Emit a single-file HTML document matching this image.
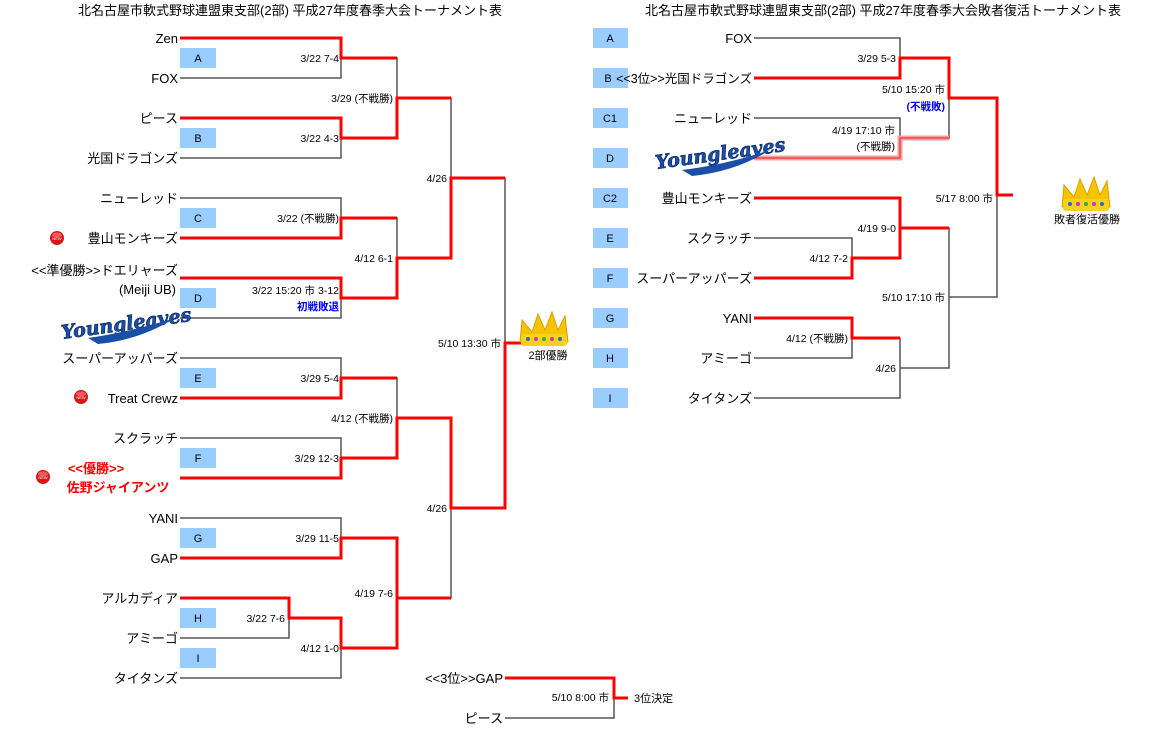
<!DOCTYPE html>
<html><head><meta charset="utf-8"><style>
body{margin:0;background:#fff;width:1171px;height:739px;overflow:hidden}
svg{display:block}
text{font-family:"Liberation Sans","Noto Sans CJK JP",sans-serif;fill:#000}
.t{font-size:13px;text-anchor:end}
.l{font-size:10.5px;text-anchor:end}
.b{font-size:11px;text-anchor:middle}
.k{fill:none;stroke:#555;stroke-width:1.5}
.r{fill:none;stroke:#f00;stroke-width:3}
.yl{font-family:'DejaVu Serif',serif;font-style:italic;font-weight:bold;font-size:19px;fill:#1a4fa8;stroke:#0a2a66;stroke-width:.7;text-anchor:middle}
</style></head><body>
<svg width="1171" height="739" viewBox="0 0 1171 739">
<defs>
<g id="crown">
<polygon points="0,30 2,8 12,20 18,2 25,18 32,0 38,18 45,4 48,30" fill="#f5c400" stroke="#d9a000"/>
<rect x="1" y="22" width="46" height="12" rx="3" fill="#f8d21a"/>
<circle cx="8" cy="27" r="2" fill="#36c"/><circle cx="16" cy="27" r="2" fill="#c3c"/><circle cx="24" cy="27" r="2" fill="#3a3"/><circle cx="32" cy="27" r="2" fill="#c3c"/><circle cx="40" cy="27" r="2" fill="#36c"/>
</g>
<g id="nw"><circle r="7" fill="#d81818"/><ellipse cy="-3" rx="5" ry="2.5" fill="#f88" opacity=".6"/><text y="2" style="font-size:4px;fill:#fff;text-anchor:middle">NEW</text></g>
</defs>
<text x="290" y="15" style="font-size:13px;text-anchor:middle">北名古屋市軟式野球連盟東支部(2部) 平成27年度春季大会トーナメント表</text>
<text x="883" y="15" style="font-size:13px;text-anchor:middle">北名古屋市軟式野球連盟東支部(2部) 平成27年度春季大会敗者復活トーナメント表</text>

<g fill="#99ccff">
<rect x="180" y="48" width="36" height="20"/><rect x="180" y="128" width="36" height="20"/><rect x="180" y="208" width="36" height="20"/><rect x="180" y="288" width="36" height="20"/><rect x="180" y="368" width="36" height="20"/><rect x="180" y="448" width="36" height="20"/><rect x="180" y="528" width="36" height="20"/><rect x="180" y="608" width="36" height="20"/><rect x="180" y="648" width="36" height="20"/>
</g>
<g class="b"><text x="198" y="62">A</text><text x="198" y="142">B</text><text x="198" y="222">C</text><text x="198" y="302">D</text><text x="198" y="382">E</text><text x="198" y="462">F</text><text x="198" y="542">G</text><text x="198" y="622">H</text><text x="198" y="662">I</text></g>
<g fill="#99ccff">
<rect x="593" y="28" width="35" height="20"/><rect x="593" y="68" width="35" height="20"/><rect x="593" y="108" width="35" height="20"/><rect x="593" y="148" width="35" height="20"/><rect x="593" y="188" width="35" height="20"/><rect x="593" y="228" width="35" height="20"/><rect x="593" y="268" width="35" height="20"/><rect x="593" y="308" width="35" height="20"/><rect x="593" y="348" width="35" height="20"/><rect x="593" y="388" width="35" height="20"/>
</g>
<g class="b"><text x="610" y="42">A</text><text x="608" y="82">B</text><text x="610" y="122">C1</text><text x="610" y="162">D</text><text x="610" y="202">C2</text><text x="610" y="242">E</text><text x="610" y="282">F</text><text x="610" y="322">G</text><text x="610" y="362">H</text><text x="610" y="402">I</text></g>

<path class="k" d="M180 38H341V78H180M180 118H341V158H180M180 198H341V238H180M180 278H341V318H180M180 358H341V398H180M180 438H341V478H180M180 518H341V558H180M180 598H289V638H180M180 678H341V618H289
M341 58H397V138H341M341 218H397V298H341M341 378H397V458H341M341 538H397V648H341
M397 98H451V258H397M397 418H451V598H397M451 178H505V508H451M505 343H522M505 678H614V718H505M614 698H628"/>
<path class="r" d="M180 38H341V58H397M180 118H341V138H397V98H451M180 238H341V218H397M180 278H341V298H397V258H451V178H505
M180 398H341V378H397M180 478H341V458H397V418H451V508H505V343H522M180 558H341V538H397V598H451M180 598H289V618H341V648H397V598M505 678H614V698H628"/>

<path class="k" d="M754 38H900V78H754M754 118H900V158H754M754 198H900V258H852M754 238H852V278H754M754 318H852V358H754M852 338H900V398H754
M900 58H949V138H900M900 228H949V368H900M949 98H997V297H949M997 195H1013"/>
<path class="r" d="M754 78H900V58H949V98H997V195H1013M754 198H900V228H949M754 278H852V258H900V228M754 318H852V338H900"/>
<path d="M754 158H900V138H949" fill="none" stroke="#f4a0a0" stroke-width="5"/>
<path d="M754 158H900V138H949" fill="none" stroke="#e33" stroke-width="1.2"/>

<g class="t">
<text x="178" y="43">Zen</text><text x="178" y="83">FOX</text><text x="178" y="123">ピース</text><text x="178" y="163">光国ドラゴンズ</text>
<text x="178" y="203">ニューレッド</text><text x="178" y="243">豊山モンキーズ</text><text x="178" y="275">&lt;&lt;準優勝&gt;&gt;ドエリャーズ</text>
<text x="176" y="294">(Meiji UB)</text>
<text x="178" y="363">スーパーアッパーズ</text><text x="178" y="403">Treat Crewz</text><text x="178" y="443">スクラッチ</text>
<text x="178" y="523">YANI</text><text x="178" y="563">GAP</text><text x="178" y="603">アルカディア</text><text x="178" y="643">アミーゴ</text><text x="178" y="683">タイタンズ</text>
<text x="503" y="683">&lt;&lt;3位&gt;&gt;GAP</text><text x="503" y="723">ピース</text>
</g>
<text x="96" y="473" style="font-size:13px;font-weight:bold;fill:#f00;text-anchor:middle">&lt;&lt;優勝&gt;&gt;</text>
<text x="118" y="492" style="font-size:13px;font-weight:bold;fill:#f00;text-anchor:middle">佐野ジャイアンツ</text>
<use href="#nw" x="57" y="238"/><use href="#nw" x="81" y="397"/><use href="#nw" x="43" y="477"/>
<text x="126" y="330" class="yl" transform="rotate(-8 126 322)">Youngleaves</text>
<path d="M88 338 Q130 332 175 318 Q140 340 98 344Z" fill="#1a4fa8"/>

<g class="t">
<text x="752" y="43">FOX</text><text x="752" y="83" style="font-size:12.5px">&lt;&lt;3位&gt;&gt;光国ドラゴンズ</text><text x="752" y="123">ニューレッド</text>
<text x="752" y="203">豊山モンキーズ</text><text x="752" y="243">スクラッチ</text><text x="752" y="283">スーパーアッパーズ</text><text x="752" y="323">YANI</text><text x="752" y="363">アミーゴ</text><text x="752" y="403">タイタンズ</text>
</g>
<text x="720" y="160" class="yl" transform="rotate(-8 720 152)">Youngleaves</text>
<path d="M682 170 Q725 165 770 150 Q735 172 692 176Z" fill="#1a4fa8"/>

<g class="l">
<text x="339" y="62">3/22 7-4</text><text x="393" y="102">3/29 (不戦勝)</text><text x="339" y="142">3/22 4-3</text><text x="447" y="182">4/26</text>
<text x="339" y="222">3/22 (不戦勝)</text><text x="393" y="262">4/12 6-1</text><text x="339" y="294">3/22 15:20 市 3-12</text>
<text x="339" y="310" style="fill:#00f;font-weight:bold">初戦敗退</text>
<text x="501" y="347">5/10 13:30 市</text>
<text x="339" y="382">3/29 5-4</text><text x="393" y="422">4/12 (不戦勝)</text><text x="339" y="462">3/29 12-3</text><text x="447" y="512">4/26</text>
<text x="339" y="542">3/29 11-5</text><text x="393" y="597">4/19 7-6</text><text x="285" y="622">3/22 7-6</text><text x="339" y="652">4/12 1-0</text>
<text x="609" y="701">5/10 8:00 市</text>
</g>
<text x="634" y="702" style="font-size:11px">3位決定</text>
<use href="#crown" x="520" y="312"/>
<text x="548" y="359" class="b">2部優勝</text>

<g class="l">
<text x="896" y="62">3/29 5-3</text><text x="945" y="93">5/10 15:20 市</text>
<text x="945" y="110" style="fill:#00f;font-weight:bold">(不戦敗)</text>
<text x="895" y="134">4/19 17:10 市</text><text x="895" y="150">(不戦勝)</text>
<text x="993" y="202">5/17 8:00 市</text><text x="896" y="232">4/19 9-0</text><text x="848" y="262">4/12 7-2</text>
<text x="945" y="301">5/10 17:10 市</text><text x="848" y="342">4/12 (不戦勝)</text><text x="896" y="372">4/26</text>
</g>
<use href="#crown" x="1062" y="177"/>
<text x="1087" y="223" class="b">敗者復活優勝</text>
</svg>
</body></html>
